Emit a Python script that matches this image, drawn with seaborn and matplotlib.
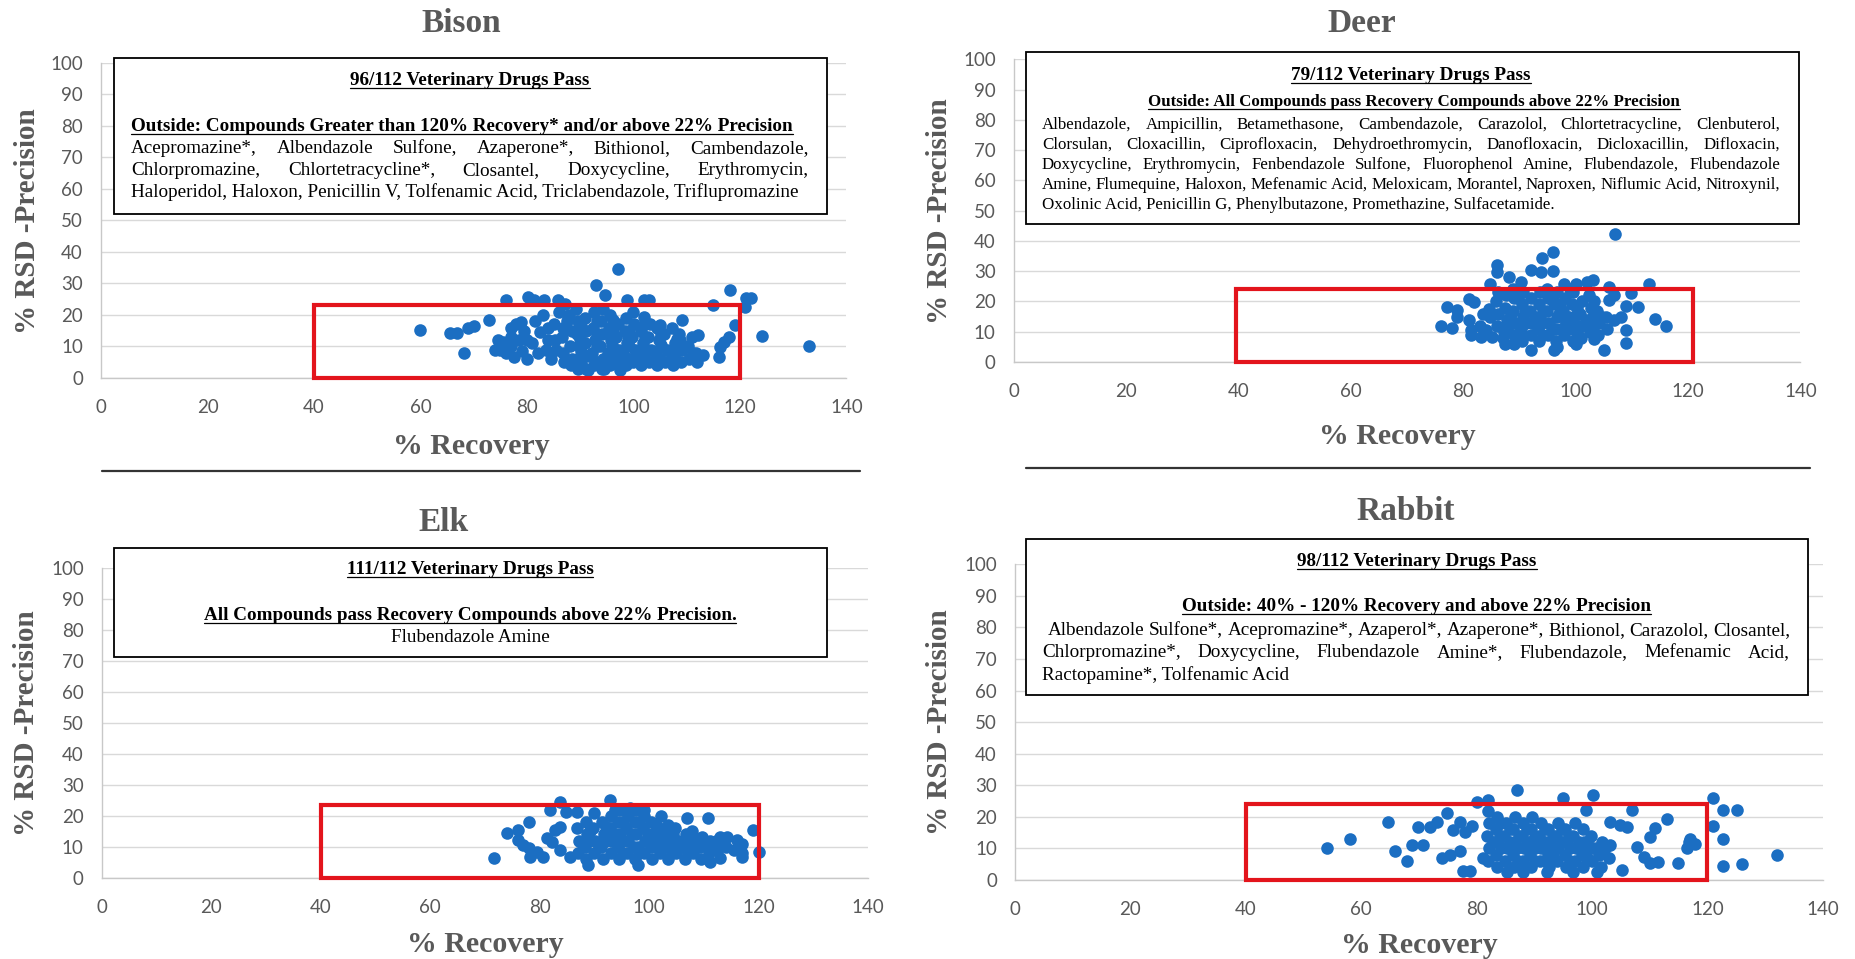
import matplotlib
matplotlib.use("Agg")
import matplotlib.pyplot as plt
import seaborn as sns
import pandas as pd
from matplotlib.patches import Rectangle
from matplotlib.lines import Line2D
from matplotlib.font_manager import FontProperties

# ---------------------------------------------------------------- data
bison_recovery = [60, 65.5, 66.8, 68.1, 69, 70, 72.8, 76.1, 74.5, 75,
                  77, 78, 78.8, 80.1, 81.4, 83.2, 85.8, 87.2, 92.9, 94.7,
                  97, 98.8, 102, 103, 102, 105, 109.2, 107.2, 108.5, 112.1,
                  113, 115, 116, 116.2, 117, 118, 118.1, 119, 121.1, 122.1,
                  120.9, 124.2, 133,
                  74, 75.5, 76, 77, 77.5, 78.5, 79, 79.5, 80, 81,
                  81.5, 82, 82.5, 83, 84, 84.5, 85, 85.5, 86, 86.5,
                  87, 87.5, 88,
                  88.2, 88.4, 87.9, 89.5, 89.3, 89.7, 89.4, 89.6, 89.2,
                  91, 91.2, 90.8, 91.1, 90.9, 92.5, 92.3, 92.7, 92.4, 92.6,
                  94, 94.2, 93.8, 94.1, 93.9, 94.3, 95.5, 95.3, 95.7, 95.4, 95.6,
                  97, 97.2, 96.8, 97.1, 98.5, 98.3, 98.7, 98.4, 98.6,
                  100, 100.2, 99.8, 100.1, 99.9, 101.5, 101.3, 101.7, 101.4,
                  103, 103.2, 102.8, 103.1, 104.5, 104.3, 104.7, 104.4,
                  106, 106.2, 105.8, 107.5, 107.3, 107.7, 109, 109.2, 108.8,
                  110.5, 110.3, 112, 111.8,
                  90, 93, 96, 99, 102, 105, 108, 97.5, 91.5, 94.5,
                  88.5, 111, 84, 80, 77,
                  90.2, 90.2, 90.2, 93.2, 93.2, 93.2, 96.2, 96.2, 96.2, 99.2,
                  99.2, 99.2, 102.2, 102.2, 102.2, 105.2, 105.2, 108.2, 108.2, 111.2,
                  86.8, 86.8, 85.2, 83.5]
bison_rsd = [15.3, 14.3, 14.3, 7.9, 16, 16.4, 18.5, 24.6, 12, 9,
             15.7, 17, 17.8, 25.7, 24.6, 24.6, 24.6, 23.6, 29.4, 26.2,
             34.4, 24.6, 24.6, 24.6, 19.4, 16.7, 18.3, 15.7, 14.1, 13.5,
             7.2, 23, 6.7, 9.8, 11.5, 13, 28, 16.7, 25.2, 25.2,
             22.5, 13.2, 10.2,
             9, 11.5, 8, 10, 6.5, 12, 8.5, 15, 6, 11,
             18, 8, 14.5, 20, 12, 6, 17, 9, 21, 13,
             5, 18, 10,
             4, 15, 20, 3, 6, 10, 14, 18, 22,
             3, 7, 11, 15, 19, 4, 8, 12, 16, 21,
             3, 6, 10, 14, 18, 22, 4, 8, 12, 16, 20,
             5, 9, 13, 17, 4, 7, 11, 15, 19,
             5, 9, 13, 17, 21, 4, 7, 11, 15,
             5, 9, 13, 17, 4, 8, 12, 16,
             5, 9, 14, 4, 7, 11, 5, 9, 12,
             6, 10, 5, 8,
             12.5, 5, 10.5, 13, 9.5, 6, 9, 2.5, 2.5, 2.8,
             6, 13, 16, 12, 13,
             4.5, 8.5, 16.5, 10, 14, 18, 6, 14.5, 18.5, 6,
             15, 10, 6, 13, 17, 10.5, 14, 5.5, 12.5, 8,
             8, 16, 12, 9]

deer_recovery = [106.9, 96, 94, 86, 86, 88.1, 92, 93.8, 96, 84.8,
                 90.2, 97.9, 100, 102, 103.1, 105.9, 113, 109.9, 106.8, 105.9,
                 108.9, 111, 114.1, 116.1, 108.9, 108.9, 105, 76.1, 77.9, 77.1,
                 78.9, 78.9, 81, 81.9, 81, 81.3, 81.3, 83.1, 84.5, 84.8,
                 85.1, 89, 92, 96.1, 96.7, 100, 103.3, 106.8, 108,
                 86, 86.2, 85.8, 86.1, 87.5, 87.3, 87.7, 87.4, 87.6,
                 89, 89.2, 88.8, 89.1, 88.9, 90.5, 90.3, 90.7, 90.4, 90.6,
                 92, 92.2, 91.8, 92.1, 93.5, 93.3, 93.7, 93.4, 93.6,
                 95, 95.2, 94.8, 95.1, 94.9, 96.5, 96.3, 96.7, 96.4, 96.6,
                 98, 98.2, 97.8, 98.1, 99.5, 99.3, 99.7, 99.4, 99.6,
                 101, 101.2, 100.8, 101.1, 102.5, 102.3, 102.7, 102.4,
                 104, 104.2, 103.8, 105.5, 105.3, 83, 83.5, 84,
                 88, 91, 94, 97, 100, 103, 96,
                 87, 88.5, 90, 91.2, 92.8, 94.2, 94.2, 95.8, 97.2, 97.4,
                 98.8, 100.3, 100.3, 101.8, 103, 103.3, 104.7, 89.8, 95.8, 99]
deer_rsd = [42.2, 36.2, 34.4, 32, 29.8, 28.1, 30.3, 29.8, 30.1, 25.7,
            26.5, 25.7, 25.7, 26.5, 27.2, 24.8, 25.7, 22.8, 22.1, 20.4,
            18.4, 18.2, 14.1, 11.9, 10.5, 6.3, 4.1, 12, 11.2, 18.2,
            17.1, 14.9, 20.9, 19.9, 13.8, 10.5, 8.8, 8.3, 17.6, 14.9,
            8.3, 6.1, 4.1, 4.1, 5, 6.1, 7.7, 13.8, 14.9,
            12, 16, 20, 23, 6, 10, 14, 18, 22,
            9, 13, 17, 21, 24, 7, 11, 15, 19, 23,
            9, 13, 17, 21, 7, 11, 15, 19, 23,
            9, 13, 17, 21, 24, 7, 11, 15, 19, 23,
            9, 13, 17, 21, 7, 11, 15, 19, 23,
            8, 12, 16, 20, 10, 14, 18, 22,
            9, 13, 17, 11, 15, 12, 16, 10.5,
            12, 17, 13, 16, 12, 15, 20,
            8, 16, 9.5, 13, 15, 9, 17, 11, 19, 11,
            15, 10, 18, 14, 11.5, 20, 15, 21, 22, 24]

elk_recovery = [71.7, 74.1, 76.1, 76.1, 77, 78, 78.1, 78.2, 79.5, 80.7,
                81.3, 82.2, 82.8, 81.9, 83.7, 83.7, 83.7, 84.9, 86.8, 85.6,
                88.9, 90, 92.9, 93.8, 95.3, 98, 106.9, 110.8, 114.2, 116,
                116.9, 116.9, 118.9, 120.1, 113, 111.1,
                87, 87.2, 86.8, 88.5, 88.3, 88.7, 88.4, 90, 90.2, 89.8,
                91.5, 91.3, 91.7, 91.4, 93, 93.2, 92.8, 93.1,
                94.5, 94.3, 94.7, 94.4, 94.6, 96, 96.2, 95.8, 96.1,
                97.5, 97.3, 97.7, 97.4, 97.6, 99, 99.2, 98.8, 99.1,
                100.5, 100.3, 100.7, 100.4, 102, 102.2, 101.8, 102.1,
                103.5, 103.3, 103.7, 103.4, 105, 105.2, 104.8,
                106.5, 106.3, 106.7, 108, 108.2, 107.8, 109.5, 109.3, 109.7,
                111, 111.2, 112.5, 112.3, 114, 115.5, 117, 113,
                95, 98, 101, 104, 107, 92, 89,
                88, 89.2, 90.8, 92.2, 92.2, 93.8, 95.2, 96.8, 98.2, 98.2,
                99.8, 101.2, 101.3, 102.8, 104.2, 104.3, 105.8, 107.3, 108.8, 110.3,
                111.8, 96.5, 99]
elk_rsd = [6.3, 14.3, 15.4, 12.2, 10.6, 9.5, 18.1, 6.8, 8.4, 6.8,
           12.7, 11.7, 15.4, 21.9, 24.6, 16.5, 9, 21.3, 21.3, 6.8,
           4.1, 20.8, 25.1, 21.9, 18.1, 4.1, 19.2, 19.2, 13.3, 12.2,
           7.9, 6.8, 15.4, 8.4, 6.3, 5.2,
           8, 12, 16, 6, 10, 14, 18, 8, 12, 16,
           6, 10, 14, 18, 8, 12, 16, 20,
           6, 10, 14, 18, 22, 8, 12, 16, 20,
           6, 10, 14, 18, 22, 8, 12, 16, 20,
           6, 10, 14, 18, 8, 12, 16, 20,
           6, 10, 14, 17, 8, 12, 16,
           6, 10, 14, 8, 12, 15, 6, 10, 13,
           8, 12, 9, 12, 10, 9, 11, 13,
           12, 10, 13, 11, 9, 14, 12,
           11, 15, 10, 12, 16.5, 14, 8, 14, 18, 8,
           14, 10, 17, 14, 8, 14, 11, 13, 10, 11,
           10, 22.5, 22]

rabbit_recovery = [54, 58, 64.7, 65.9, 67.9, 68.8, 70.8, 69.9, 71.9, 73.1,
                   74.8, 74, 75.4, 77.1, 76, 77.1, 78, 79.2, 77.7, 78.9,
                   80.1, 82, 81.1, 87, 95, 100.1, 99, 106.9, 113, 111,
                   110, 116.4, 117.9, 117, 116.8, 115, 111.5, 110.1, 107.8, 109,
                   105.2, 121, 121, 122.8, 125.1, 122.8, 122.8, 126, 132, 103.1,
                   104.9, 106, 85.2, 88.1, 92.2, 96.8, 100.8,
                   82, 82.2, 81.8, 82.1, 81.9, 83.5, 83.3, 83.7, 83.4, 83.6,
                   85, 85.2, 84.8, 85.1, 86.5, 86.3, 86.7, 86.4, 86.6,
                   88, 88.2, 87.8, 88.1, 89.5, 89.3, 89.7, 89.4, 89.6,
                   91, 91.2, 90.8, 91.1, 92.5, 92.3, 92.7, 92.4,
                   94, 94.2, 93.8, 94.1, 95.5, 95.3, 95.7, 95.4,
                   97, 97.2, 96.8, 97.1, 98.5, 98.3, 98.7, 98.4,
                   100, 100.2, 99.8, 101.5, 101.3, 101.7, 103, 103.2,
                   84, 87, 90, 93, 96, 99, 92,
                   82.8, 84.2, 84.2, 85.8, 85.8, 87.3, 87.2, 88.8, 88.8, 90.2,
                   90.2, 91.8, 91.8, 93.2, 93.2, 94.8, 94.8, 96.2, 96.2, 97.8,
                   99.2, 99.2, 100.8, 102.2]
rabbit_rsd = [10.2, 13, 18.3, 9.3, 6, 11.1, 11.1, 16.9, 16.9, 18.5,
              21.1, 7.1, 7.9, 9.2, 15.8, 18.5, 15.1, 17.2, 2.8, 2.8,
              24.8, 25.3, 7.1, 28.5, 26.1, 26.9, 22.2, 22.2, 19.3, 16.4,
              13.7, 10, 11.5, 13, 12, 5.3, 5.8, 5.3, 10.6, 7.4,
              3.2, 26.1, 17.2, 22.2, 22.2, 13, 4.5, 5, 7.9, 18.5,
              17.4, 16.9, 2.5, 2.5, 2.5, 2.5, 2.5,
              6, 10, 14, 18, 22, 4, 8, 12, 16, 20,
              6, 10, 14, 18, 4, 8, 12, 16, 20,
              6, 10, 14, 18, 4, 8, 12, 16, 20,
              6, 10, 14, 18, 4, 8, 12, 16,
              6, 10, 14, 18, 4, 8, 12, 16,
              6, 10, 14, 18, 4, 8, 12, 16,
              6, 10, 14, 4, 8, 12, 7, 11,
              14, 10, 13, 10, 14, 9, 6,
              12, 10, 18, 12, 16, 14, 6, 12, 16, 10,
              6, 12, 16, 8, 14, 12, 16, 10, 6, 12,
              12, 7, 10, 10]

titles = ["Bison", "Deer", "Elk", "Rabbit"]
box_top = [23.2, 24.2, 23.4, 24.0]
x_ticks = [0, 20, 40, 60, 80, 100, 120, 140]
y_ticks = [0, 10, 20, 30, 40, 50, 60, 70, 80, 90, 100]
x_label = "% Recovery"
y_label = "% RSD -Precision"

bison_head = "96/112 Veterinary Drugs Pass"
bison_sub = "Outside: Compounds Greater than 120% Recovery* and/or above 22% Precision"
bison_lines = ["Acepromazine*, Albendazole Sulfone, Azaperone*, Bithionol, Cambendazole,",
               "Chlorpromazine, Chlortetracycline*, Closantel, Doxycycline, Erythromycin,",
               "Haloperidol, Haloxon, Penicillin V, Tolfenamic Acid, Triclabendazole, Triflupromazine"]
deer_head = "79/112 Veterinary Drugs Pass"
deer_sub = "Outside: All Compounds pass Recovery Compounds above 22% Precision"
deer_lines = ["Albendazole, Ampicillin, Betamethasone, Cambendazole, Carazolol, Chlortetracycline, Clenbuterol,",
              "Clorsulan, Cloxacillin, Ciprofloxacin, Dehydroethromycin, Danofloxacin, Dicloxacillin, Difloxacin,",
              "Doxycycline, Erythromycin, Fenbendazole Sulfone, Fluorophenol Amine, Flubendazole, Flubendazole",
              "Amine, Flumequine, Haloxon, Mefenamic Acid, Meloxicam, Morantel, Naproxen, Niflumic Acid, Nitroxynil,",
              "Oxolinic Acid, Penicillin G, Phenylbutazone, Promethazine, Sulfacetamide."]
elk_head = "111/112 Veterinary Drugs Pass"
elk_sub = "All Compounds pass Recovery Compounds above 22% Precision."
elk_lines = ["Flubendazole Amine"]
rabbit_head = "98/112 Veterinary Drugs Pass"
rabbit_sub = "Outside: 40% - 120% Recovery and above 22% Precision"
rabbit_lines = ["Albendazole Sulfone*, Acepromazine*, Azaperol*, Azaperone*, Bithionol, Carazolol, Closantel,",
                "Chlorpromazine*, Doxycycline, Flubendazole Amine*, Flubendazole, Mefenamic Acid,",
                "Ractopamine*, Tolfenamic Acid"]

# ---------------------------------------------------------------- style
W, H = 1856, 959
sns.set_style("white")
plt.rcParams['font.family'] = ['Liberation Serif', 'DejaVu Serif']

fig = plt.figure(figsize=(W / 100, H / 100), dpi=100)
renderer = fig.canvas.get_renderer()

POINT_COLOR = "#1b6ec2"
RED = "#e3141c"
GRAY = "#595959"
GRID = "#d9d9d9"

fp_body = FontProperties(family="Liberation Serif", size=13.8)
fp_bold = FontProperties(family="Liberation Serif", size=13.8, weight="bold")
fp_body_s = FontProperties(family="Liberation Serif", size=12.2)
fp_bold_s = FontProperties(family="Liberation Serif", size=12.2, weight="bold")
fp_title = FontProperties(family="Liberation Serif", size=24, weight="bold")
fp_ylab = FontProperties(family="Liberation Serif", size=21, weight="bold")
fp_xlab = FontProperties(family="Liberation Serif", size=21.5, weight="bold")


def fx(px):
    return px / W


def fy(py):
    return 1 - py / H


def tw(s, fp):
    w, h, d = renderer.get_text_width_height_descent(s, fp, ismath=False)
    return w


def put(x, y, s, fp, ha="left", underline=False, color="black"):
    fig.text(fx(x), fy(y), s, fontproperties=fp, ha=ha, va="baseline",
             color=color, zorder=6)
    if underline:
        w = tw(s, fp)
        x0 = x - w / 2 if ha == "center" else x
        fig.add_artist(Line2D([fx(x0), fx(x0 + w)], [fy(y + 3), fy(y + 3)],
                              transform=fig.transFigure, color="black",
                              lw=0.9, zorder=6))


def justify(left, right, y, line, fp, last=False):
    words = line.split()
    if last or len(words) < 2:
        put(left, y, line, fp)
        return
    widths = [tw(w, fp) for w in words]
    gap = (right - left - sum(widths)) / (len(words) - 1)
    x = left
    for w, wd in zip(words, widths):
        put(x, y, w, fp)
        x += wd + gap


def box(l, t, r, b):
    fig.add_artist(Rectangle((fx(l), fy(b)), fx(r - l), (b - t) / H,
                             transform=fig.transFigure, facecolor="white",
                             edgecolor="black", lw=1.3, zorder=5))


# layout in pixels: (x at 0, x at 140, y at 100, y at 0)
layout = [(101, 846.5, 62.5, 378), (1013.8, 1800.5, 59.3, 362),
          (101.8, 868, 568.3, 877.7), (1015, 1822.7, 564.3, 880)]
data = [(bison_recovery, bison_rsd), (deer_recovery, deer_rsd),
        (elk_recovery, elk_rsd), (rabbit_recovery, rabbit_rsd)]
rect_x = [(40, 120), (39.5, 120.8), (40, 120), (40, 120)]

for i, ((x0, x1, y1, y0), (rx, ry)) in enumerate(zip(layout, data)):
    ax = fig.add_axes([fx(x0), fy(y0), (x1 - x0) / W, (y0 - y1) / H])
    df = pd.DataFrame({"recovery": rx, "rsd": ry})
    sns.scatterplot(data=df, x="recovery", y="rsd", ax=ax, color=POINT_COLOR,
                    s=82, linewidth=0, alpha=1, zorder=3, clip_on=False)
    ax.set_xlim(0, 140)
    ax.set_ylim(0, 100)
    ax.set_xticks(x_ticks)
    ax.set_yticks(y_ticks)
    ax.set_xlabel("")
    ax.set_ylabel("")
    ax.yaxis.grid(True, color=GRID, lw=1.0)
    ax.xaxis.grid(False)
    ax.set_axisbelow(True)
    for s in ["top", "right"]:
        ax.spines[s].set_visible(False)
    for s in ["left", "bottom"]:
        ax.spines[s].set_color("#c8c8c8")
        ax.spines[s].set_linewidth(1.0)
    ax.tick_params(axis="x", length=4, width=0.8, color="#c8c8c8",
                   direction="out", pad=11, labelsize=13.5, labelcolor=GRAY)
    ax.tick_params(axis="y", length=0, pad=13, labelsize=13.5, labelcolor=GRAY)
    for lab in ax.get_xticklabels() + ax.get_yticklabels():
        lab.set_fontfamily("Lato")
    ax.add_patch(Rectangle((rect_x[i][0], 0), rect_x[i][1] - rect_x[i][0],
                           box_top[i], fill=False, edgecolor=RED, lw=3.0,
                           zorder=4, clip_on=False))

# titles and axis labels
title_pos = [(461, 32), (1362, 32), (444, 531), (1406, 520)]
ylab_pos = [(28, 221), (940, 211), (27, 723), (940, 722)]
xlab_pos = [(471, 454), (1397, 444), (485, 952), (1419, 953)]
for t, (tx, ty), (yx, yy), (xx, xy) in zip(titles, title_pos, ylab_pos, xlab_pos):
    fig.text(fx(tx), fy(ty), t, fontproperties=fp_title, color=GRAY,
             ha="center", va="baseline")
    fig.text(fx(yx), fy(yy), y_label, fontproperties=fp_ylab, color=GRAY,
             ha="center", va="center", rotation=90)
    fig.text(fx(xx), fy(xy), x_label, fontproperties=fp_xlab, color=GRAY,
             ha="center", va="baseline")

# separator lines below top panels
fig.add_artist(Line2D([fx(102), fx(860)], [fy(470.5), fy(470.5)],
                      transform=fig.transFigure, color="#333333", lw=1.6))
fig.add_artist(Line2D([fx(1026), fx(1810)], [fy(467.7), fy(467.7)],
                      transform=fig.transFigure, color="#333333", lw=1.6))

# ---- Bison box
box(114, 58, 827, 214)
put(470, 85, bison_head, fp_bold, ha="center", underline=True)
put(131, 131, bison_sub, fp_bold, underline=True)
for k, (line, yy) in enumerate(zip(bison_lines, [153, 175, 197])):
    justify(131, 809, yy, line, fp_body, last=(k == len(bison_lines) - 1))

# ---- Deer box
box(1025.6, 52, 1799, 224)
put(1411, 80, deer_head, fp_bold, ha="center", underline=True)
put(1414, 106, deer_sub, fp_bold_s, ha="center", underline=True)
for k, (line, yy) in enumerate(zip(deer_lines, [129, 149, 169, 189, 209])):
    justify(1042, 1780, yy, line, fp_body_s, last=(k == len(deer_lines) - 1))

# ---- Elk box
box(114, 548, 826.6, 657)
put(470, 574, elk_head, fp_bold, ha="center", underline=True)
put(470, 620, elk_sub, fp_bold, ha="center", underline=True)
put(470, 642, elk_lines[0], fp_body, ha="center")

# ---- Rabbit box
box(1025.6, 539, 1808.5, 695)
put(1417, 566, rabbit_head, fp_bold, ha="center", underline=True)
put(1417, 611, rabbit_sub, fp_bold, ha="center", underline=True)
justify(1048, 1790, 635, rabbit_lines[0], fp_body)
justify(1042, 1790, 657, rabbit_lines[1], fp_body)
justify(1042, 1790, 680, rabbit_lines[2], fp_body, last=True)

fig.savefig("out.png", dpi=100)
